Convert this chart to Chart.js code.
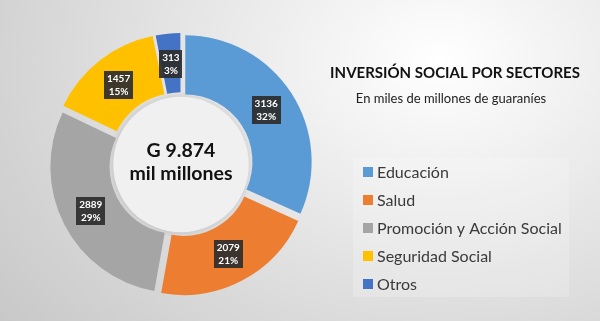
<!DOCTYPE html>
<html>
<head>
<meta charset="utf-8">
<script src="https://cdn.jsdelivr.net/npm/chart.js@4.4.1/dist/chart.umd.min.js"></script>
<style>
  html, body { margin: 0; padding: 0; }
  body { width: 600px; height: 321px; overflow: hidden;
    background: radial-gradient(ellipse 560px 420px at 440px 60px, #ffffff 0%, #eeeeee 30%, #d8d8d8 70%, #c8c8c8 100%); }
  #wrap { position: absolute; left: 0; top: 0; width: 600px; height: 321px; }
</style>
</head>
<body>
<div id="wrap"><canvas id="c" width="600" height="321"></canvas></div>
<script>
const categories = ["Educación", "Salud", "Promoción y Acción Social", "Seguridad Social", "Otros"];
const values = [3136, 2079, 2889, 1457, 313];
const percentLabels = ["32%", "21%", "29%", "15%", "3%"];
const colors = ["#5B9BD5", "#ED7D31", "#A5A5A5", "#FFC000", "#4472C4"];
const titleText = "INVERSIÓN SOCIAL POR SECTORES";
const subtitleText = "En miles de millones de guaraníes";
const centerLines = ["G 9.874", "mil millones"];

const FONT = "Lato, 'Open Sans', sans-serif";

const decorPlugin = {
  id: 'decor',
  beforeDatasetsDraw(chart) {
    const ctx = chart.ctx;
    const arc = chart.getDatasetMeta(0).data[0];
    if (!arc) return;
    ctx.save();
    ctx.shadowColor = 'rgba(0,0,0,0.15)';
    ctx.shadowBlur = 7;
    ctx.fillStyle = '#f0f0f0';
    ctx.beginPath();
    ctx.arc(arc.x, arc.y, arc.innerRadius + 1, 0, Math.PI * 2);
    ctx.fill();
    ctx.restore();
  },
  afterDatasetsDraw(chart) {
    const ctx = chart.ctx;
    const meta = chart.getDatasetMeta(0);
    meta.data.forEach((a, i) => {
      const mid = (a.startAngle + a.endAngle) / 2;
      const r = (a.innerRadius + a.outerRadius) / 2 + 5;
      const x = a.x + Math.cos(mid) * r;
      const y = a.y + Math.sin(mid) * r;
      ctx.save();
      ctx.font = "bold 10px " + FONT;
      const l1 = String(values[i]), l2 = percentLabels[i];
      const w = Math.max(ctx.measureText(l1).width, ctx.measureText(l2).width) + 6;
      const h = 28;
      ctx.fillStyle = 'rgba(45,45,45,0.92)';
      ctx.fillRect(Math.round(x - w / 2), Math.round(y - h / 2), Math.round(w), h);
      ctx.fillStyle = '#ffffff';
      ctx.textAlign = 'center';
      ctx.textBaseline = 'middle';
      ctx.fillText(l1, x, y - 6);
      ctx.fillText(l2, x, y + 7);
      ctx.restore();
    });
    const a0 = meta.data[0];
    ctx.save();
    ctx.fillStyle = '#111111';
    ctx.textAlign = 'center';
    ctx.textBaseline = 'middle';
    ctx.font = "bold 19.5px " + FONT;
    ctx.fillText(centerLines[0], a0.x, a0.y - 14);
    ctx.fillText(centerLines[1], a0.x, a0.y + 9);
    ctx.restore();
  },
  afterDraw(chart) {
    const ctx = chart.ctx;
    ctx.save();
    ctx.fillStyle = '#111111';
    ctx.textAlign = 'center';
    ctx.textBaseline = 'middle';
    ctx.font = "bold 15px " + FONT;
    ctx.fillText(titleText, 455, 73);
    ctx.font = "13px " + FONT;
    ctx.fillStyle = '#222222';
    ctx.fillText(subtitleText, 451, 99);
    ctx.fillStyle = 'rgba(255,255,255,0.2)';
    ctx.fillRect(353, 158, 216, 139);
    ctx.textAlign = 'left';
    ctx.font = "16px " + FONT;
    categories.forEach((c, i) => {
      const y = 172 + i * 28;
      ctx.fillStyle = colors[i];
      ctx.fillRect(363, y - 5, 10, 10);
      ctx.fillStyle = '#3a3a3a';
      ctx.fillText(c, 377, y + 1);
    });
    ctx.restore();
  }
};

new Chart(document.getElementById('c'), {
  type: 'doughnut',
  data: {
    labels: categories,
    datasets: [{
      data: values,
      backgroundColor: colors,
      borderWidth: 0,
      offset: [20, 20, 20, 20, 12],
      hoverOffset: 0
    }]
  },
  options: {
    responsive: false,
    animation: false,
    radius: 126,
    cutout: '53%',
    layout: { padding: { left: 52, right: 290, top: 36, bottom: 28 } },
    plugins: {
      legend: { display: false },
      tooltip: { enabled: false },
      title: { display: false }
    },
    events: []
  },
  plugins: [decorPlugin]
});
</script>
</body>
</html>
